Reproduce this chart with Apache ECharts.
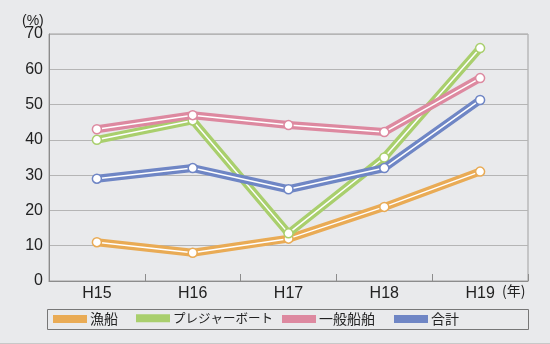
<!DOCTYPE html>
<html><head><meta charset="utf-8">
<script src="https://cdn.jsdelivr.net/npm/echarts@6/dist/echarts.min.js"></script>
<style>html,body{margin:0;padding:0;background:#e9eaec;}#c{width:550px;height:344px;}</style>
</head><body><div id="c"></div>
<script>
const categories = ['H15','H16','H17','H18','H19'];
const seriesNames = ['漁船','プレジャーボート','一般船舶','合計'];
const gyosen = [11, 8, 12, 21, 31];
const pleasure = [40, 45.5, 13.5, 35, 66];
const ippan = [43, 47, 44.2, 42.2, 57.5];
const goukei = [29, 32, 26, 32, 51.3];
const yTicks = [0, 10, 20, 30, 40, 50, 60, 70];
const colors = ['#e9ab55', '#a9cf6d', '#dd89a0', '#6f86c5'];
const values = [gyosen, pleasure, ippan, goukei];

const numFont = '"Liberation Sans", Arial, sans-serif';
const jpFont = '"Noto Sans CJK JP", sans-serif';

const series = [];
values.forEach((v, i) => {
  series.push({
    name: seriesNames[i], type: 'line', data: v, z: 2 + i * 2,
    lineStyle: {color: colors[i], width: 8, cap: 'round', join: 'round'},
    itemStyle: {color: colors[i]},
    showSymbol: false, symbol: 'none', animation: false
  });
  series.push({
    name: seriesNames[i] + '_w', type: 'line', data: v, z: 3 + i * 2,
    lineStyle: {color: '#ffffff', width: 1.5},
    symbol: 'circle', symbolSize: 9,
    itemStyle: {color: '#ffffff', borderColor: colors[i], borderWidth: 1.5},
    animation: false
  });
});

const legendLefts = [53, 136, 282, 394];
const legends = seriesNames.map((n, i) => ({
  data: [n], left: legendLefts[i], top: 312, padding: 0,
  icon: 'rect', itemWidth: 34, itemHeight: 8,
  textStyle: {fontFamily: jpFont, fontSize: i === 1 ? 12.5 : 14, color: '#222', padding: [0,0,0,-2]},
  selectedMode: false
}));

const chart = echarts.init(document.getElementById('c'), null, {renderer: 'canvas'});
chart.setOption({
  backgroundColor: '#e9eaec',
  animation: false,
  grid: {left: 49, right: 22, top: 34, bottom: 63, show: true, borderColor: '#a0a0a0', borderWidth: 1},
  legend: legends,
  xAxis: {
    type: 'category', data: categories, boundaryGap: true,
    axisLine: {lineStyle: {color: '#8c8c8c', width: 1}},
    axisTick: {show: true, inside: true, length: 7, lineStyle: {color: '#8c8c8c'}},
    axisLabel: {fontFamily: numFont, fontSize: 16, color: '#222', margin: 5},
    splitLine: {show: false}
  },
  yAxis: {
    type: 'value', min: yTicks[0], max: yTicks[yTicks.length - 1], interval: 10,
    axisLine: {show: true, lineStyle: {color: '#8c8c8c', width: 1}},
    axisTick: {show: false},
    axisLabel: {fontFamily: numFont, fontSize: 16, color: '#222', margin: 6, padding: [4, 0, 0, 0]},
    splitLine: {lineStyle: {color: '#b5b5b5', width: 1}}
  },
  graphic: [
    {type: 'text', left: 22, top: 14, style: {text: '(%)', font: '14px ' + numFont, fill: '#222'}},
    {type: 'text', left: 502, top: 284, style: {text: '(年)', font: '14px ' + jpFont, fill: '#222'}},
    {type: 'rect', shape: {x: 47.5, y: 309.5, width: 481, height: 20}, style: {fill: 'none', stroke: '#777', lineWidth: 1}, z: -1},
    {type: 'line', shape: {x1: 0, y1: 343.5, x2: 550, y2: 343.5}, style: {stroke: '#c8c8c8', lineWidth: 1}}
  ],
  series: series
});
</script></body></html>
